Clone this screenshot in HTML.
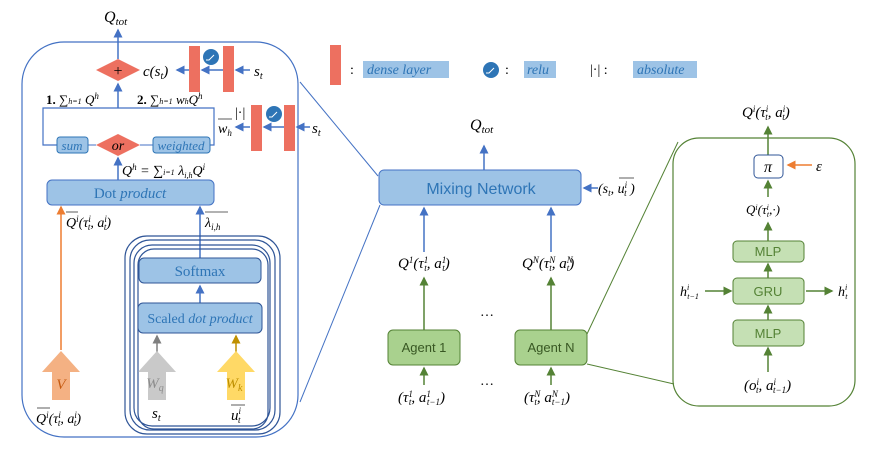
<!DOCTYPE html>
<html><head><meta charset="utf-8"><style>
body{margin:0;background:#fff}
svg text{font-family:"Liberation Serif",serif}
.s{font-family:"Liberation Sans",sans-serif}
</style></head><body>
<svg width="873" height="450" viewBox="0 0 873 450" xmlns="http://www.w3.org/2000/svg">
<defs>
<marker id="ab" markerWidth="6" markerHeight="6" refX="5" refY="3" orient="auto"><path d="M0,0L6,3L0,6z" fill="#4472c4"/></marker>
<marker id="ag" markerWidth="6" markerHeight="6" refX="5" refY="3" orient="auto"><path d="M0,0L6,3L0,6z" fill="#548235"/></marker>
<marker id="ao" markerWidth="6" markerHeight="6" refX="5" refY="3" orient="auto"><path d="M0,0L6,3L0,6z" fill="#ed7d31"/></marker>
<marker id="ay" markerWidth="6" markerHeight="6" refX="5" refY="3" orient="auto"><path d="M0,0L6,3L0,6z" fill="#bf9000"/></marker>
<marker id="agr" markerWidth="6" markerHeight="6" refX="5" refY="3" orient="auto"><path d="M0,0L6,3L0,6z" fill="#7f7f7f"/></marker>
</defs>

<g>
<rect x="22" y="42" width="276" height="395" rx="42" fill="none" stroke="#4472c4" stroke-width="1.2"/>
<text x="104" y="22" font-size="16" font-style="italic">Q<tspan font-size="11" dy="3">tot</tspan></text>
<line x1="118" y1="59" x2="118" y2="30" stroke="#4472c4" stroke-width="1.5" marker-end="url(#ab)"/>
<polygon points="96,70 118,59 140,70 118,81" fill="#ed7060"/>
<text x="118" y="76" font-size="16" text-anchor="middle">+</text>
<text x="143" y="76" font-size="15" font-style="italic">c(s<tspan font-size="10" dy="3">t</tspan><tspan dy="-3">)</tspan></text>
<line x1="190" y1="70" x2="177" y2="70" stroke="#4472c4" stroke-width="1.5" marker-end="url(#ab)"/>
<rect x="189" y="46" width="11" height="46" fill="#ed7060"/>
<rect x="223" y="46" width="11" height="46" fill="#ed7060"/>
<line x1="223" y1="70" x2="202" y2="70" stroke="#4472c4" stroke-width="1.5" marker-end="url(#ab)"/>
<circle cx="211" cy="57" r="8" fill="#2e75b6"/><path d="M206,60h3l5,-5" stroke="#fff" fill="none"/>
<line x1="250" y1="70" x2="236" y2="70" stroke="#4472c4" stroke-width="1.5" marker-end="url(#ab)"/>
<text x="254" y="76" font-size="15" font-style="italic">s<tspan font-size="10" dy="3">t</tspan></text>
<line x1="118" y1="108" x2="118" y2="84" stroke="#4472c4" stroke-width="1.5" marker-end="url(#ab)"/>
<text x="46" y="104" font-size="13" font-weight="bold">1. <tspan font-weight="normal" font-style="italic">∑<tspan font-size="8">h=1</tspan> Q<tspan font-size="9" dy="-5">h</tspan></tspan></text>
<text x="137" y="104" font-size="13" font-weight="bold">2. <tspan font-weight="normal" font-style="italic">∑<tspan font-size="8">h=1</tspan> w<tspan font-size="8">h</tspan>Q<tspan font-size="9" dy="-5">h</tspan></tspan></text>
<polyline points="57,145 43,145 43,108 214,108 214,145 210,145" fill="none" stroke="#4472c4" stroke-width="1.2"/>
<line x1="88" y1="145" x2="96" y2="145" stroke="#4472c4"/><line x1="140" y1="145" x2="153" y2="145" stroke="#4472c4"/>
<rect x="57" y="137" width="31" height="16" rx="3" fill="#9dc3e6" stroke="#2e75b6"/>
<text x="72" y="150" font-size="13" font-style="italic" fill="#2e75b6" text-anchor="middle">sum</text>
<polygon points="96,145 118,134 140,145 118,156" fill="#ed7060"/>
<text x="118" y="150" font-size="14" font-style="italic" text-anchor="middle">or</text>
<rect x="153" y="137" width="57" height="16" rx="3" fill="#9dc3e6" stroke="#2e75b6"/>
<text x="181" y="150" font-size="13" font-style="italic" fill="#2e75b6" text-anchor="middle">weighted</text>
<text x="218" y="133" font-size="14" font-style="italic">w<tspan font-size="9" dy="3">h</tspan></text>
<line x1="218" y1="119" x2="232" y2="119" stroke="#333" stroke-width=".8"/>
<line x1="250" y1="127" x2="236" y2="127" stroke="#4472c4" stroke-width="1.5" marker-end="url(#ab)"/>
<text x="235" y="117" font-size="14">|·|</text>
<rect x="251" y="105" width="11" height="46" fill="#ed7060"/>
<rect x="284" y="105" width="11" height="46" fill="#ed7060"/>
<line x1="284" y1="127" x2="264" y2="127" stroke="#4472c4" stroke-width="1.5" marker-end="url(#ab)"/>
<circle cx="274" cy="114" r="8" fill="#2e75b6"/><path d="M269,117h3l5,-5" stroke="#fff" fill="none"/>
<line x1="310" y1="127" x2="297" y2="127" stroke="#4472c4" stroke-width="1.5" marker-end="url(#ab)"/>
<text x="312" y="133" font-size="15" font-style="italic">s<tspan font-size="10" dy="3">t</tspan></text>
<line x1="118" y1="180" x2="118" y2="158" stroke="#4472c4" stroke-width="1.5" marker-end="url(#ab)"/>
<text x="122" y="175" font-size="14" font-style="italic">Q<tspan font-size="9" dy="-5">h</tspan><tspan dy="5"> = ∑</tspan><tspan font-size="8">i=1</tspan> λ<tspan font-size="8" dy="3">i,h</tspan><tspan dy="-3">Q</tspan><tspan font-size="9" dy="-5">i</tspan></text>
<rect x="47" y="180" width="167" height="25" rx="5" fill="#9dc3e6" stroke="#4472c4"/>
<text x="130" y="198" font-size="15" fill="#2e75b6" text-anchor="middle">Dot <tspan font-style="italic">product</tspan></text>
<line x1="61" y1="350" x2="61" y2="207" stroke="#ed7d31" stroke-width="1.5" marker-end="url(#ao)"/>
<text x="66" y="227" font-size="14" font-style="italic">Q<tspan font-size="9" dy="-5">i</tspan><tspan dy="5">(τ</tspan><tspan font-size="9" dy="-5">i</tspan><tspan font-size="9" dx="-3" dy="8">t</tspan><tspan dy="-3">, a</tspan><tspan font-size="9" dy="-5">i</tspan><tspan font-size="9" dx="-3" dy="8">t</tspan><tspan dy="-3">)</tspan></text>
<line x1="66" y1="212" x2="78" y2="212" stroke="#333" stroke-width=".8"/>
<line x1="200" y1="258" x2="200" y2="207" stroke="#4472c4" stroke-width="1.5" marker-end="url(#ab)"/>
<text x="205" y="227" font-size="14" font-style="italic">λ<tspan font-size="9" dy="3">i,h</tspan></text>
<line x1="205" y1="212" x2="228" y2="212" stroke="#333" stroke-width=".8"/>
<g fill="none" stroke="#2f5597" stroke-width="1.2">
<rect x="125" y="236" width="155" height="198" rx="22"/>
<rect x="130" y="240" width="145" height="190" rx="20"/>
<rect x="134" y="245" width="136" height="181" rx="18"/>
<rect x="138" y="249" width="130" height="180" rx="16"/>
</g>
<rect x="139" y="258" width="122" height="25" rx="5" fill="#9dc3e6" stroke="#2f5597"/>
<text x="200" y="276" font-size="15" fill="#2e75b6" text-anchor="middle">Softmax</text>
<line x1="200" y1="303" x2="200" y2="286" stroke="#4472c4" stroke-width="1.5" marker-end="url(#ab)"/>
<rect x="138" y="303" width="124" height="30" rx="5" fill="#9dc3e6" stroke="#2f5597"/>
<text x="200" y="323" font-size="14" fill="#2e75b6" text-anchor="middle">Scaled <tspan font-style="italic">dot product</tspan></text>
<line x1="157" y1="352" x2="157" y2="336" stroke="#7f7f7f" stroke-width="1.5" marker-end="url(#agr)"/>
<line x1="236" y1="352" x2="236" y2="336" stroke="#bf9000" stroke-width="1.5" marker-end="url(#ay)"/>
<polygon points="42,372 61,351 80,372 70,372 70,400 52,400 52,372" fill="#f4b183"/>
<text x="61" y="389" font-size="15" font-style="italic" fill="#c55a11" text-anchor="middle">V</text>
<polygon points="138,372 157,351 176,372 166,372 166,400 148,400 148,372" fill="#c9c9c9"/>
<text x="155" y="388" font-size="15" font-style="italic" fill="#8c8c8c" text-anchor="middle">W<tspan font-size="10" dy="3">q</tspan></text>
<polygon points="217,372 236,351 255,372 245,372 245,400 227,400 227,372" fill="#ffd966"/>
<text x="234" y="388" font-size="15" font-style="italic" fill="#bf9000" text-anchor="middle">W<tspan font-size="10" dy="3">k</tspan></text>
<text x="36" y="423" font-size="14" font-style="italic">Q<tspan font-size="9" dy="-5">i</tspan><tspan dy="5">(τ</tspan><tspan font-size="9" dy="-5">i</tspan><tspan font-size="9" dx="-3" dy="8">t</tspan><tspan dy="-3">, a</tspan><tspan font-size="9" dy="-5">i</tspan><tspan font-size="9" dx="-3" dy="8">t</tspan><tspan dy="-3">)</tspan></text>
<line x1="37" y1="408" x2="50" y2="408" stroke="#333" stroke-width=".8"/>
<text x="152" y="418" font-size="15" font-style="italic">s<tspan font-size="10" dy="3">t</tspan></text>
<text x="231" y="420" font-size="15" font-style="italic">u<tspan font-size="9" dy="-6">i</tspan><tspan font-size="9" dx="-3" dy="9">t</tspan></text>
<line x1="231" y1="405" x2="245" y2="405" stroke="#333" stroke-width=".8"/>
</g>

<g>
<rect x="330" y="45" width="11" height="40" fill="#ed7060"/>
<text x="350" y="74" font-size="14">:</text>
<rect x="363" y="61" width="86" height="17" fill="#9dc3e6"/>
<text x="367" y="74" font-size="14" font-style="italic" fill="#2e75b6">dense layer</text>
<circle cx="491" cy="70" r="8" fill="#2e75b6"/><path d="M486,73h3l5,-5" stroke="#fff" fill="none"/>
<text x="505" y="74" font-size="14">:</text>
<rect x="524" y="61" width="32" height="17" fill="#9dc3e6"/>
<text x="527" y="74" font-size="14" font-style="italic" fill="#2e75b6">relu</text>
<text x="590" y="74" font-size="14">|·| :</text>
<rect x="633" y="61" width="64" height="17" fill="#9dc3e6"/>
<text x="637" y="74" font-size="14" font-style="italic" fill="#2e75b6">absolute</text>
</g>

<line x1="300" y1="82" x2="378" y2="176" stroke="#4472c4"/>
<line x1="300" y1="402" x2="380" y2="205" stroke="#4472c4"/>
<line x1="587" y1="334" x2="678" y2="142" stroke="#548235"/>
<line x1="587" y1="364" x2="674" y2="384" stroke="#548235"/>

<g>
<text x="470" y="130" font-size="16" font-style="italic">Q<tspan font-size="11" dy="3">tot</tspan></text>
<line x1="484" y1="170" x2="484" y2="146" stroke="#4472c4" stroke-width="1.5" marker-end="url(#ab)"/>
<rect x="379" y="170" width="202" height="35" rx="5" fill="#9dc3e6" stroke="#4472c4"/>
<text x="481" y="194" class="s" font-size="16" fill="#2e75b6" text-anchor="middle">Mixing Network</text>
<line x1="598" y1="188" x2="584" y2="188" stroke="#4472c4" stroke-width="1.5" marker-end="url(#ab)"/>
<text x="598" y="193" font-size="14" font-style="italic">(s<tspan font-size="9" dy="3">t</tspan><tspan dy="-3">, u</tspan><tspan font-size="9" dy="-5">i</tspan><tspan font-size="9" dx="-3" dy="8">t</tspan><tspan dy="-3"> )</tspan></text>
<line x1="619" y1="178" x2="634" y2="178" stroke="#333" stroke-width=".8"/>
<line x1="424" y1="252" x2="424" y2="208" stroke="#4472c4" stroke-width="1.5" marker-end="url(#ab)"/>
<line x1="551" y1="252" x2="551" y2="208" stroke="#4472c4" stroke-width="1.5" marker-end="url(#ab)"/>
<text x="398" y="268" font-size="15" font-style="italic">Q<tspan font-size="9" dy="-5">1</tspan><tspan dy="5">(τ</tspan><tspan font-size="9" dy="-5">1</tspan><tspan font-size="9" dx="-4" dy="8">t</tspan><tspan dy="-3">, a</tspan><tspan font-size="9" dy="-5">1</tspan><tspan font-size="9" dx="-4" dy="8">t</tspan><tspan dy="-3">)</tspan></text>
<text x="522" y="268" font-size="15" font-style="italic">Q<tspan font-size="9" dy="-5">N</tspan><tspan dy="5">(τ</tspan><tspan font-size="9" dy="-5">N</tspan><tspan font-size="9" dx="-6" dy="8">t</tspan><tspan dy="-3">, a</tspan><tspan font-size="9" dy="-5">N</tspan><tspan font-size="9" dx="-6" dy="8">t</tspan><tspan dy="-3">)</tspan></text>
<line x1="424" y1="330" x2="424" y2="278" stroke="#548235" stroke-width="1.5" marker-end="url(#ag)"/>
<line x1="551" y1="330" x2="551" y2="278" stroke="#548235" stroke-width="1.5" marker-end="url(#ag)"/>
<text x="487" y="316" font-size="14" text-anchor="middle">…</text>
<rect x="388" y="330" width="72" height="35" rx="5" fill="#a9d18e" stroke="#548235"/>
<text x="424" y="352" class="s" font-size="13" fill="#385723" text-anchor="middle">Agent 1</text>
<rect x="515" y="330" width="72" height="35" rx="5" fill="#a9d18e" stroke="#548235"/>
<text x="551" y="352" class="s" font-size="13" fill="#385723" text-anchor="middle">Agent N</text>
<line x1="424" y1="385" x2="424" y2="368" stroke="#548235" stroke-width="1.5" marker-end="url(#ag)"/>
<line x1="551" y1="385" x2="551" y2="368" stroke="#548235" stroke-width="1.5" marker-end="url(#ag)"/>
<text x="487" y="385" font-size="14" text-anchor="middle">…</text>
<text x="398" y="402" font-size="15" font-style="italic">(τ<tspan font-size="9" dy="-5">1</tspan><tspan font-size="9" dx="-4" dy="8">t</tspan><tspan dy="-3">, a</tspan><tspan font-size="9" dy="-5">1</tspan><tspan font-size="9" dx="-4" dy="8">t−1</tspan><tspan dy="-3">)</tspan></text>
<text x="524" y="402" font-size="15" font-style="italic">(τ<tspan font-size="9" dy="-5">N</tspan><tspan font-size="9" dx="-6" dy="8">t</tspan><tspan dy="-3">, a</tspan><tspan font-size="9" dy="-5">N</tspan><tspan font-size="9" dx="-6" dy="8">t−1</tspan><tspan dy="-3">)</tspan></text>
</g>

<g>
<rect x="673" y="138" width="182" height="268" rx="26" fill="none" stroke="#548235" stroke-width="1.2"/>
<text x="742" y="117" font-size="15" font-style="italic">Q<tspan font-size="9" dy="-5">i</tspan><tspan dy="5">(τ</tspan><tspan font-size="9" dy="-5">i</tspan><tspan font-size="9" dx="-3" dy="8">t</tspan><tspan dy="-3">, a</tspan><tspan font-size="9" dy="-5">i</tspan><tspan font-size="9" dx="-3" dy="8">t</tspan><tspan dy="-3">)</tspan></text>
<line x1="768" y1="155" x2="768" y2="127" stroke="#548235" stroke-width="1.5" marker-end="url(#ag)"/>
<rect x="754" y="155" width="29" height="23" rx="4" fill="#fff" stroke="#2f5597"/>
<text x="768" y="172" font-size="16" font-style="italic" text-anchor="middle">π</text>
<line x1="812" y1="165" x2="788" y2="165" stroke="#ed7d31" stroke-width="1.5" marker-end="url(#ao)"/>
<text x="816" y="171" font-size="15" font-style="italic">ε</text>
<line x1="768" y1="197" x2="768" y2="181" stroke="#548235" stroke-width="1.5" marker-end="url(#ag)"/>
<text x="746" y="214" font-size="13" font-style="italic">Q<tspan font-size="8" dy="-4">i</tspan><tspan dy="4">(τ</tspan><tspan font-size="8" dy="-4">i</tspan><tspan font-size="8" dx="-2" dy="7">t</tspan><tspan dy="-3">,·)</tspan></text>
<line x1="768" y1="241" x2="768" y2="223" stroke="#548235" stroke-width="1.5" marker-end="url(#ag)"/>
<rect x="733" y="241" width="71" height="21" rx="4" fill="#c5e0b4" stroke="#548235"/>
<text x="768" y="256" class="s" font-size="13" fill="#548235" text-anchor="middle">MLP</text>
<line x1="768" y1="278" x2="768" y2="264" stroke="#548235" stroke-width="1.5" marker-end="url(#ag)"/>
<rect x="733" y="278" width="71" height="26" rx="4" fill="#c5e0b4" stroke="#548235"/>
<text x="768" y="296" class="s" font-size="13" fill="#548235" text-anchor="middle">GRU</text>
<line x1="705" y1="291" x2="731" y2="291" stroke="#548235" stroke-width="1.5" marker-end="url(#ag)"/>
<line x1="806" y1="291" x2="832" y2="291" stroke="#548235" stroke-width="1.5" marker-end="url(#ag)"/>
<text x="680" y="296" font-size="14" font-style="italic">h<tspan font-size="8" dy="-6">i</tspan><tspan font-size="8" dx="-2" dy="9">t−1</tspan></text>
<text x="838" y="296" font-size="14" font-style="italic">h<tspan font-size="8" dy="-6">i</tspan><tspan font-size="8" dx="-2" dy="9">t</tspan></text>
<line x1="768" y1="320" x2="768" y2="306" stroke="#548235" stroke-width="1.5" marker-end="url(#ag)"/>
<rect x="733" y="320" width="71" height="26" rx="4" fill="#c5e0b4" stroke="#548235"/>
<text x="768" y="338" class="s" font-size="13" fill="#548235" text-anchor="middle">MLP</text>
<line x1="768" y1="372" x2="768" y2="348" stroke="#548235" stroke-width="1.5" marker-end="url(#ag)"/>
<text x="744" y="390" font-size="15" font-style="italic">(o<tspan font-size="9" dy="-5">i</tspan><tspan font-size="9" dx="-3" dy="8">t</tspan><tspan dy="-3">, a</tspan><tspan font-size="9" dy="-5">i</tspan><tspan font-size="9" dx="-3" dy="8">t−1</tspan><tspan dy="-3">)</tspan></text>
</g>
</svg>
</body></html>
